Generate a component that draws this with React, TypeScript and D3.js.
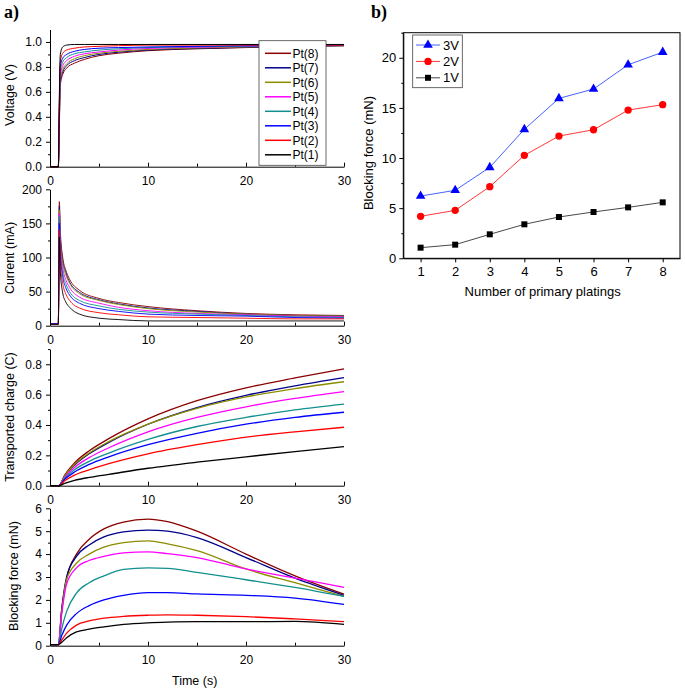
import React, { useEffect, useRef } from "react";
import * as d3 from "d3";

// ---- panel a data ----
const ptLabels = ["Pt(1)", "Pt(2)", "Pt(3)", "Pt(4)", "Pt(5)", "Pt(6)", "Pt(7)", "Pt(8)"];
const ptColors = ["#000000", "#FF0000", "#0000FF", "#129090", "#FF00FF", "#8C8C00", "#00008B", "#8B0000"];

const voltTime = [0, 0.85, 0.95, 1.05, 1.3, 1.7, 2.5, 3.5, 5, 7, 10, 15, 20, 25, 30];
const voltPt1 = [0, 0, 0.55, 0.9, 0.96, 0.975, 0.98, 0.98, 0.98, 0.98, 0.98, 0.98, 0.98, 0.98, 0.98];
const voltPt2 = [0, 0, 0.5, 0.84, 0.91, 0.935, 0.95, 0.96, 0.965, 0.97, 0.975, 0.975, 0.975, 0.975, 0.975];
const voltPt3 = [0, 0, 0.45, 0.8, 0.87, 0.9, 0.925, 0.94, 0.95, 0.955, 0.96, 0.965, 0.97, 0.972, 0.975];
const voltPt4 = [0, 0, 0.42, 0.76, 0.84, 0.875, 0.905, 0.92, 0.935, 0.945, 0.955, 0.962, 0.967, 0.97, 0.973];
const voltPt5 = [0, 0, 0.4, 0.73, 0.81, 0.85, 0.885, 0.905, 0.92, 0.935, 0.948, 0.958, 0.964, 0.968, 0.972];
const voltPt6 = [0, 0, 0.37, 0.7, 0.78, 0.825, 0.865, 0.89, 0.91, 0.925, 0.94, 0.952, 0.96, 0.966, 0.97];
const voltPt7 = [0, 0, 0.34, 0.68, 0.76, 0.81, 0.85, 0.875, 0.9, 0.918, 0.935, 0.948, 0.957, 0.964, 0.97];
const voltPt8 = [0, 0, 0.3, 0.65, 0.74, 0.79, 0.83, 0.86, 0.89, 0.91, 0.93, 0.945, 0.955, 0.963, 0.97];

const currTime = [0, 0.85, 0.95, 1.05, 1.3, 1.6, 2, 3, 5, 7, 10, 15, 20, 25, 30];
const currPt1 = [2, 2, 130, 80, 48, 35, 27, 17, 11, 9, 7, 7, 7, 7, 7];
const currPt2 = [2, 2, 140, 95, 62, 47, 37, 26, 19, 16, 13, 12, 11, 10, 10];
const currPt3 = [3, 3, 150, 105, 72, 56, 45, 33, 25, 21, 17, 15, 14, 12, 11];
const currPt4 = [3, 3, 160, 112, 78, 62, 50, 37, 29, 24, 20, 17, 15, 13, 12];
const currPt5 = [3, 3, 165, 120, 85, 68, 56, 42, 33, 27, 22, 18, 16, 14, 13];
const currPt6 = [3, 3, 170, 128, 92, 75, 62, 47, 37, 31, 25, 20, 17, 15, 14];
const currPt7 = [3, 3, 175, 132, 95, 78, 64, 49, 38, 32, 26, 21, 17, 15, 14];
const currPt8 = [3, 3, 182, 140, 100, 82, 68, 52, 40, 34, 28, 22, 18, 16, 15];

const chargeTime = [0, 0.9, 1.5, 2.5, 4, 6, 10, 15, 20, 25, 30];
const chargePt1 = [0, 0, 0.015, 0.035, 0.055, 0.075, 0.115, 0.155, 0.19, 0.225, 0.257];
const chargePt2 = [0, 0, 0.032, 0.07, 0.105, 0.145, 0.21, 0.27, 0.32, 0.355, 0.385];
const chargePt3 = [0, 0, 0.042, 0.09, 0.14, 0.19, 0.27, 0.345, 0.405, 0.45, 0.484];
const chargePt4 = [0, 0, 0.048, 0.105, 0.16, 0.215, 0.305, 0.39, 0.45, 0.5, 0.538];
const chargePt5 = [0, 0, 0.055, 0.12, 0.185, 0.25, 0.355, 0.45, 0.52, 0.575, 0.62];
const chargePt6 = [0, 0, 0.065, 0.14, 0.215, 0.29, 0.405, 0.51, 0.585, 0.64, 0.685];
const chargePt7 = [0, 0, 0.062, 0.135, 0.21, 0.285, 0.405, 0.515, 0.595, 0.658, 0.712];
const chargePt8 = [0, 0, 0.07, 0.15, 0.23, 0.31, 0.44, 0.56, 0.645, 0.71, 0.77];

const forceTime = [0, 0.85, 1.2, 1.7, 2.7, 4, 5.5, 7.5, 10, 12, 15, 20, 25, 30];
const forcePt1 = [0.05, 0.05, 0.15, 0.35, 0.6, 0.72, 0.82, 0.93, 1.0, 1.03, 1.05, 1.05, 1.06, 0.93];
const forcePt2 = [0.05, 0.05, 0.25, 0.55, 0.9, 1.08, 1.2, 1.28, 1.33, 1.35, 1.33, 1.27, 1.17, 1.05];
const forcePt3 = [0.05, 0.05, 0.45, 0.9, 1.4, 1.75, 2.0, 2.2, 2.32, 2.32, 2.26, 2.2, 2.08, 1.8];
const forcePt4 = [0.05, 0.05, 0.75, 1.5, 2.3, 2.75, 3.05, 3.33, 3.4, 3.38, 3.2, 2.88, 2.55, 2.15];
const forcePt5 = [0.05, 0.05, 1.4, 2.7, 3.4, 3.72, 3.9, 4.05, 4.1, 4.02, 3.85, 3.35, 2.95, 2.55];
const forcePt6 = [0.05, 0.05, 1.5, 2.9, 3.6, 4.0, 4.3, 4.5, 4.58, 4.45, 4.15, 3.35, 2.75, 2.15];
const forcePt7 = [0.05, 0.05, 1.6, 3.0, 3.9, 4.4, 4.75, 4.97, 5.05, 5.0, 4.72, 3.85, 2.95, 2.2];
const forcePt8 = [0.05, 0.05, 1.6, 2.95, 4.0, 4.65, 5.1, 5.4, 5.53, 5.42, 5.0, 4.0, 3.05, 2.25];

// ---- panel b data ----
const platings = [1, 2, 3, 4, 5, 6, 7, 8];
const force1V = [1.06, 1.36, 2.39, 3.39, 4.12, 4.62, 5.08, 5.58];
const force2V = [4.19, 4.78, 7.14, 10.27, 12.19, 12.82, 14.78, 15.32];
const force3V = [6.21, 6.78, 9.07, 12.86, 15.95, 16.88, 19.3, 20.56];

const FONT = "'Liberation Sans', Arial, sans-serif";

const App = () => {
  const svgRef = useRef(null);

  useEffect(() => {
    const svg = d3.select(svgRef.current);
    svg.selectAll("*").remove();

    const width = 685;
    const height = 692;
    svg.attr("width", width).attr("height", height);
    svg.append("rect").attr("width", width).attr("height", height).attr("fill", "#fff");

    const styleAxis = (g, size) => {
      g.selectAll("text").attr("font-family", FONT).attr("font-size", size).attr("fill", "#000");
      g.selectAll("line, path").attr("stroke", "#000");
    };

    // ---------- panel a ----------
    const x = d3.scaleLinear().domain([0, 30]).range([50, 344]);

    const panels = [
      {
        time: voltTime, series: [voltPt1, voltPt2, voltPt3, voltPt4, voltPt5, voltPt6, voltPt7, voltPt8],
        domain: [0, 1.1], range: [166.7, 29.5], major: d3.range(0, 1.01, 0.2), minor: d3.range(0.1, 1.1, 0.2),
        fmt: d3.format(".1f"), title: "Voltage (V)", titleX: 10, titleY: 95, lw: 1
      },
      {
        time: currTime, series: [currPt1, currPt2, currPt3, currPt4, currPt5, currPt6, currPt7, currPt8],
        domain: [0, 200], range: [325.7, 189.3], major: [0, 50, 100, 150, 200], minor: [25, 75, 125, 175],
        fmt: d3.format("d"), title: "Current (mA)", titleX: 10, titleY: 258, lw: 0.9
      },
      {
        time: chargeTime, series: [chargePt1, chargePt2, chargePt3, chargePt4, chargePt5, chargePt6, chargePt7, chargePt8],
        domain: [0, 0.9], range: [485.7, 349.1], major: d3.range(0, 0.81, 0.2), minor: d3.range(0.1, 0.91, 0.2),
        fmt: d3.format(".1f"), title: "Transported charge (C)", titleX: 10, titleY: 417, lw: 1.3
      },
      {
        time: forceTime, series: [forcePt1, forcePt2, forcePt3, forcePt4, forcePt5, forcePt6, forcePt7, forcePt8],
        domain: [0, 6], range: [645.7, 508.3], major: [0, 1, 2, 3, 4, 5, 6], minor: [0.5, 1.5, 2.5, 3.5, 4.5, 5.5],
        fmt: d3.format("d"), title: "Blocking force (mN)", titleX: 14, titleY: 576, lw: 1.3
      }
    ];

    panels.forEach((p, pi) => {
      const y = d3.scaleLinear().domain(p.domain).range(p.range);
      const line = d3.line().curve(d3.curveMonotoneX);

      const lines = svg.append("g");
      for (let i = p.series.length - 1; i >= 0; i--) {
        const pts = p.time.map((t, k) => [x(t), y(p.series[i][k])]);
        lines.append("path")
          .attr("d", line(pts))
          .attr("fill", "none")
          .attr("stroke", ptColors[i])
          .attr("stroke-width", p.lw);
      }

      // Y axis
      const yAxis = svg.append("g").attr("transform", "translate(50,0)")
        .call(d3.axisLeft(y).tickValues(p.major).tickFormat(p.fmt).tickSize(4).tickSizeOuter(0).tickPadding(4));
      styleAxis(yAxis, 12);
      const yMinor = svg.append("g").attr("transform", "translate(50,0)")
        .call(d3.axisLeft(y).tickValues(p.minor).tickFormat("").tickSize(2).tickSizeOuter(0));
      yMinor.select(".domain").remove();
      styleAxis(yMinor, 12);

      // X axis (ticks point up)
      const xAxis = svg.append("g").attr("transform", `translate(0,${p.range[0]})`)
        .call(d3.axisBottom(x).tickValues([0, 10, 20, 30]).tickFormat(d3.format("d")).tickSize(-4).tickSizeOuter(0).tickPadding(10));
      styleAxis(xAxis, 12);
      const xMinor = svg.append("g").attr("transform", `translate(0,${p.range[0]})`)
        .call(d3.axisBottom(x).tickValues([5, 15, 25]).tickFormat("").tickSize(-3).tickSizeOuter(0));
      xMinor.select(".domain").remove();
      styleAxis(xMinor, 12);

      svg.append("text")
        .attr("transform", `translate(${p.titleX},${p.titleY}) rotate(-90)`)
        .attr("text-anchor", "middle")
        .attr("dy", "0.35em")
        .attr("font-family", FONT)
        .attr("font-size", 12.5)
        .text(p.title);

      // legend in the voltage panel
      if (pi === 0) {
        const lg = svg.append("g");
        lg.append("rect").attr("x", 259).attr("y", 40.7).attr("width", 67).attr("height", 124.6)
          .attr("fill", "#fff").attr("stroke", "#444").attr("stroke-width", 0.8);
        const order = d3.range(7, -1, -1);
        order.forEach((s, k) => {
          const ly = 53.3 + k * 14.5;
          lg.append("line").attr("x1", 265).attr("x2", 291).attr("y1", ly).attr("y2", ly)
            .attr("stroke", ptColors[s]).attr("stroke-width", 1.5);
          lg.append("text").attr("x", 292.5).attr("y", ly).attr("dy", "0.35em")
            .attr("font-family", FONT).attr("font-size", 12).text(ptLabels[s]);
        });
      }
    });

    svg.append("text").attr("x", 172).attr("y", 685).attr("font-family", FONT).attr("font-size", 12.5)
      .text("Time (s)");

    svg.append("text").attr("x", 4).attr("y", 18).attr("font-family", "'Liberation Serif', 'Times New Roman', serif")
      .attr("font-weight", "bold").attr("font-size", 18).text("a)");

    // ---------- panel b ----------
    const left = 403.3, right = 680, top = 32.7, bottom = 258.3;
    const xb = d3.scaleLinear().domain([0.5, 8.5]).range([left, right]);
    const yb = d3.scaleLinear().domain([0, 22.5]).range([bottom, top]);

    svg.append("text").attr("x", 371).attr("y", 18).attr("font-family", "'Liberation Serif', 'Times New Roman', serif")
      .attr("font-weight", "bold").attr("font-size", 18).text("b)");

    const bxAxis = svg.append("g").attr("transform", `translate(0,${bottom})`)
      .call(d3.axisBottom(xb).tickValues(platings).tickFormat(d3.format("d")).tickSize(4).tickSizeOuter(0).tickPadding(4.5));
    styleAxis(bxAxis, 13);
    const byAxis = svg.append("g").attr("transform", `translate(${left},0)`)
      .call(d3.axisLeft(yb).tickValues([0, 5, 10, 15, 20]).tickFormat(d3.format("d")).tickSize(4).tickSizeOuter(0).tickPadding(3));
    styleAxis(byAxis, 13);
    const byMinor = svg.append("g").attr("transform", `translate(${left},0)`)
      .call(d3.axisLeft(yb).tickValues([2.5, 7.5, 12.5, 17.5, 22.5]).tickFormat("").tickSize(2).tickSizeOuter(0));
    byMinor.select(".domain").remove();
    styleAxis(byMinor, 13);

    svg.append("rect").attr("x", left).attr("y", top).attr("width", right - left).attr("height", bottom - top)
      .attr("fill", "none").attr("stroke", "#000").attr("stroke-width", 1);

    const bSeries = [
      { name: "3V", values: force3V, color: "#0000FF", line: "#3050FF", sym: d3.symbolTriangle, size: 40 },
      { name: "2V", values: force2V, color: "#FF0000", line: "#FF2020", sym: d3.symbolCircle, size: 42 },
      { name: "1V", values: force1V, color: "#000000", line: "#333333", sym: d3.symbolSquare, size: 36 }
    ];
    const bLine = d3.line();
    bSeries.forEach(s => {
      svg.append("path")
        .attr("d", bLine(platings.map((n, i) => [xb(n), yb(s.values[i])])))
        .attr("fill", "none").attr("stroke", s.line).attr("stroke-width", 0.9);
      svg.append("g").selectAll("path")
        .data(platings)
        .enter().append("path")
        .attr("transform", (n, i) => `translate(${xb(n)},${yb(s.values[i])})`)
        .attr("d", d3.symbol(s.sym, s.size)())
        .attr("fill", s.color);
    });

    // legend b
    const lb = svg.append("g");
    lb.append("rect").attr("x", 412.7).attr("y", 35).attr("width", 49.6).attr("height", 52.7)
      .attr("fill", "#fff").attr("stroke", "#444").attr("stroke-width", 0.8);
    bSeries.forEach((s, k) => {
      const ly = 45 + k * 16.4;
      lb.append("line").attr("x1", 416).attr("x2", 440).attr("y1", ly).attr("y2", ly)
        .attr("stroke", s.line).attr("stroke-width", 0.9);
      lb.append("path").attr("transform", `translate(428,${ly})`).attr("d", d3.symbol(s.sym, s.size)()).attr("fill", s.color);
      lb.append("text").attr("x", 443).attr("y", ly).attr("dy", "0.35em")
        .attr("font-family", FONT).attr("font-size", 13).text(s.name);
    });

    svg.append("text")
      .attr("transform", `translate(368,153) rotate(-90)`)
      .attr("text-anchor", "middle").attr("dy", "0.35em")
      .attr("font-family", FONT).attr("font-size", 13)
      .text("Blocking force (mN)");
    svg.append("text")
      .attr("x", (left + right) / 2 + 1).attr("y", 296)
      .attr("text-anchor", "middle")
      .attr("font-family", FONT).attr("font-size", 13)
      .text("Number of primary platings");
  }, []);

  return <svg ref={svgRef} style={{ position: "absolute", left: 0, top: 0 }}></svg>;
};

export default App;
